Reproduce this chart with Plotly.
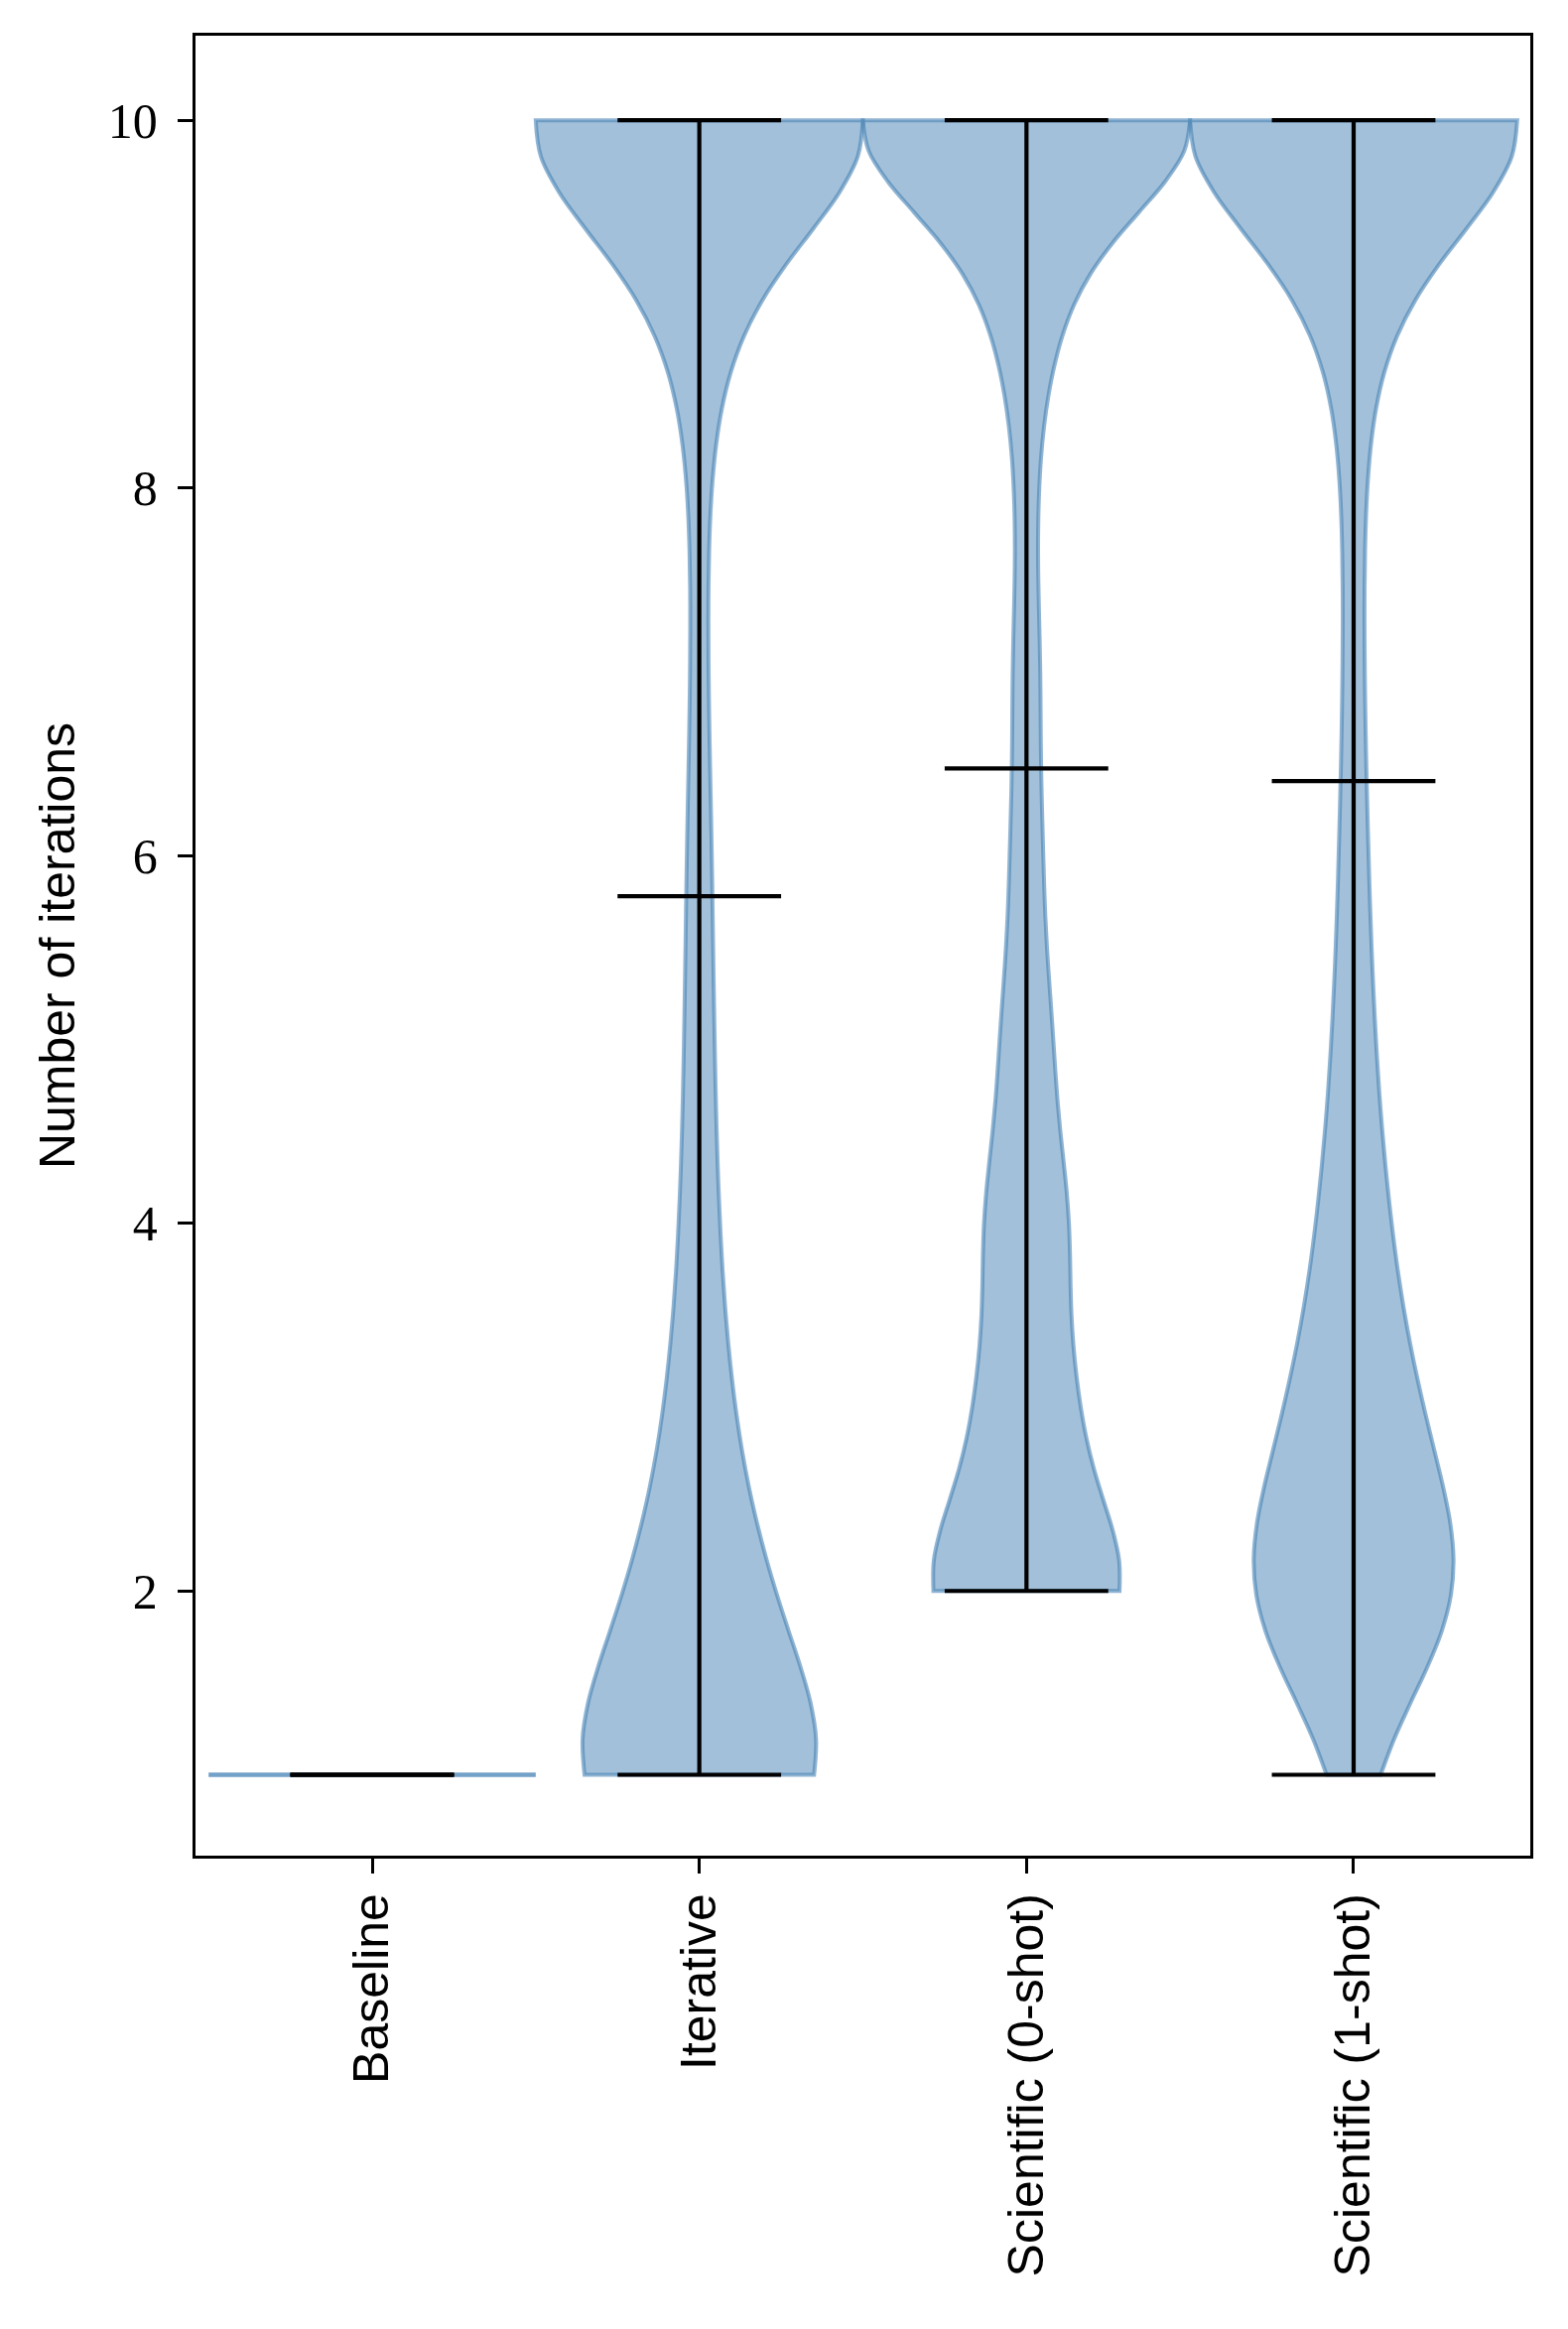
import numpy as np
import plotly.graph_objects as go

# per-method counts of runs needing 1..10 iterations
methods = ["Baseline", "Iterative", "Scientific (0-shot)", "Scientific (1-shot)"]
iteration_values = [1, 2, 3, 4, 5, 6, 7, 8, 9, 10]
baseline_counts = [250, 0, 0, 0, 0, 0, 0, 0, 0, 0]
iterative_counts = [73, 32, 15, 9, 7, 6, 4, 4, 14, 112]
sci_0shot_counts = [0, 56, 24, 22, 13, 8, 7, 5, 16, 102]
sci_1shot_counts = [4, 62, 31, 17, 10, 7, 5, 5, 13, 115]
kde_bandwidth = [0.5, 0.6, 0.5, 0.6]
y_ticks = [2, 4, 6, 8, 10]

FILL = "rgba(70,130,180,0.5)"
EDGE = "rgba(70,130,180,0.6)"
FLAT = "rgba(70,130,180,0.75)"

all_counts = [baseline_counts, iterative_counts, sci_0shot_counts, sci_1shot_counts]
samples = [np.repeat(iteration_values, c) for c in all_counts]
positions = [1, 2, 3, 4]

fig = go.Figure()

for pos, vals, bw in zip(positions, samples, kde_bandwidth):
    if vals.min() == vals.max():
        # all values equal: matplotlib draws the body as a flat line
        fig.add_trace(go.Scatter(
            x=[pos - 0.5, pos + 0.5], y=[vals.min(), vals.min()],
            mode="lines", line=dict(color=FLAT, width=4.5), hoverinfo="skip"))
    else:
        fig.add_trace(go.Violin(
            x0=pos, y=vals, width=1, bandwidth=bw,
            spanmode="hard", scalemode="width", points=False,
            fillcolor=FILL, line=dict(color=EDGE, width=4),
            box_visible=False, meanline_visible=False, hoverinfo="skip"))

# extrema bars, mean bars and the vertical range line
seg_x, seg_y = [], []
for pos, vals in zip(positions, samples):
    lo, hi, mu = vals.min(), vals.max(), vals.mean()
    seg_x += [pos, pos, None]
    seg_y += [lo, hi, None]
    for v in (lo, hi, mu):
        seg_x += [pos - 0.25, pos + 0.25, None]
        seg_y += [v, v, None]
fig.add_trace(go.Scatter(x=seg_x, y=seg_y, mode="lines",
                         line=dict(color="black", width=4.2), hoverinfo="skip"))

sans = dict(family="Liberation Sans", size=50, color="black")
serif = dict(family="Liberation Serif", size=50, color="black")

fig.update_layout(
    width=1580, height=2347,
    margin=dict(l=197, r=38, t=36, b=477),
    paper_bgcolor="white", plot_bgcolor="white",
    showlegend=False, violinmode="overlay", violingap=0,
)
fig.update_xaxes(
    range=[0.46, 4.54], tickvals=positions, ticktext=methods, tickangle=-90,
    ticks="outside", ticklen=15, tickwidth=3.3, tickcolor="black",
    showline=True, linecolor="black", linewidth=3.3, mirror=True,
    showgrid=False, zeroline=False, tickfont=sans, ticklabelstandoff=0,
    automargin=False,
)
fig.update_yaxes(
    range=[0.56, 10.46], tickvals=y_ticks, ticks="outside", ticklen=15,
    tickwidth=3.3, tickcolor="black",
    showline=True, linecolor="black", linewidth=3.3, mirror=True,
    showgrid=False, zeroline=False, tickfont=serif, ticklabelstandoff=10,
    title=dict(text="Number of iterations", font=sans, standoff=18),
    automargin=False,
)

fig.write_html("out.html", config={"displayModeBar": False},
               post_script="document.body.style.margin='0px';")
